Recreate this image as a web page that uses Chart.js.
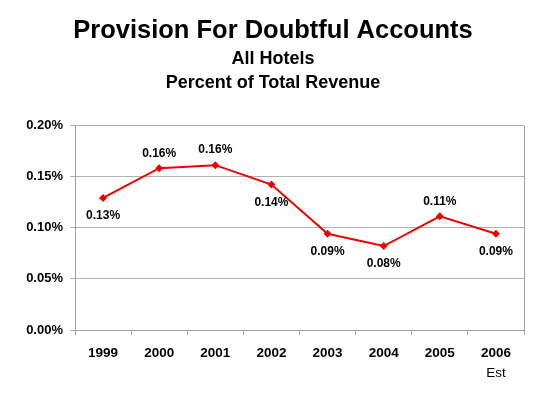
<!DOCTYPE html>
<html>
<head>
<meta charset="utf-8">
<script src="https://cdn.jsdelivr.net/npm/chart.js@4.4.1/dist/chart.umd.min.js"></script>
<style>
  html, body { margin: 0; padding: 0; background: #fff; }
  #wrap { width: 552px; height: 397px; position: relative; }
</style>
</head>
<body>
<div id="wrap"><canvas id="chart"></canvas></div>
<script>
// Chart data
const years = ['1999', '2000', '2001', '2002', '2003', '2004', '2005', '2006'];
const yearNotes = ['', '', '', '', '', '', '', 'Est'];
const provisionPct = [0.129, 0.158, 0.161, 0.142, 0.094, 0.082, 0.111, 0.094];
const labelSide = ['below', 'above', 'above', 'below', 'below', 'below', 'above', 'below'];
const yTicks = [0, 0.05, 0.10, 0.15, 0.20];

const fontFamily = '"Liberation Sans", Arial, Helvetica, sans-serif';

// Draws value labels next to each point, the "Est" note and the right frame line
const extrasPlugin = {
  id: 'extras',
  afterDatasetsDraw(chart) {
    const ctx = chart.ctx;
    const area = chart.chartArea;
    const xScale = chart.scales.x;
    const meta = chart.getDatasetMeta(0);

    ctx.save();
    // right border of the plot area
    ctx.strokeStyle = '#a0a0a0';
    ctx.lineWidth = 1;
    ctx.beginPath();
    ctx.moveTo(Math.round(area.right) + 0.5, area.top);
    ctx.lineTo(Math.round(area.right) + 0.5, area.bottom + 5);
    ctx.stroke();

    // point value labels
    ctx.fillStyle = '#000';
    ctx.font = 'bold 12px ' + fontFamily;
    ctx.textAlign = 'center';
    ctx.textBaseline = 'middle';
    meta.data.forEach((pt, i) => {
      const text = provisionPct[i].toFixed(2) + '%';
      const dy = labelSide[i] === 'above' ? -15 : 18;
      ctx.fillText(text, pt.x, pt.y + dy);
    });

    // second line under the year labels
    ctx.font = '13.5px ' + fontFamily;
    yearNotes.forEach((note, i) => {
      if (note) ctx.fillText(note, xScale.getPixelForValue(i), area.bottom + 43);
    });
    ctx.restore();
  }
};

const ctx = document.getElementById('chart').getContext('2d');
new Chart(ctx, {
  type: 'line',
  data: {
    labels: years,
    datasets: [{
      data: provisionPct,
      borderColor: '#ee0000',
      backgroundColor: '#ee0000',
      borderWidth: 2,
      pointStyle: 'rectRot',
      pointRadius: 4,
      pointBorderWidth: 0,
      tension: 0,
    }],
  },
  options: {
    responsive: true,
    maintainAspectRatio: false,
    animation: false,
    // left/right padding keeps the titles centred where the reference has them
    layout: { padding: { left: 22, right: 28, top: 0, bottom: 0 } },
    plugins: {
      legend: { display: false },
      tooltip: { enabled: false },
      title: {
        display: true,
        text: 'Provision For Doubtful Accounts',
        color: '#000',
        font: { family: fontFamily, size: 25.5, weight: 'bold', lineHeight: 1.2 },
        padding: { top: 16, bottom: 0 },
      },
      subtitle: {
        display: true,
        text: ['All Hotels', 'Percent of Total Revenue'],
        color: '#000',
        font: { family: fontFamily, size: 18, weight: 'bold', lineHeight: 1.35 },
        padding: { top: 0, bottom: 30 },
      },
    },
    scales: {
      x: {
        offset: true,
        afterFit(scale) { scale.height = 67; },
        grid: { offset: true, drawOnChartArea: false, drawTicks: true, tickLength: 5, color: '#a0a0a0' },
        border: { color: '#a0a0a0' },
        ticks: {
          color: '#000',
          padding: 10,
          maxRotation: 0,
          font: { family: fontFamily, size: 13.5, weight: 'bold' },
        },
      },
      y: {
        min: 0,
        max: 0.2,
        afterFit(scale) { scale.width = 53; },
        afterBuildTicks(scale) { scale.ticks = yTicks.map(v => ({ value: v })); },
        grid: { color: '#b0b0b0', tickLength: 5 },
        border: { color: '#a0a0a0' },
        ticks: {
          color: '#000',
          padding: 7,
          font: { family: fontFamily, size: 13, weight: 'bold' },
          callback: (v) => v.toFixed(2) + '%',
        },
      },
    },
  },
  plugins: [extrasPlugin],
});
</script>
</body>
</html>
